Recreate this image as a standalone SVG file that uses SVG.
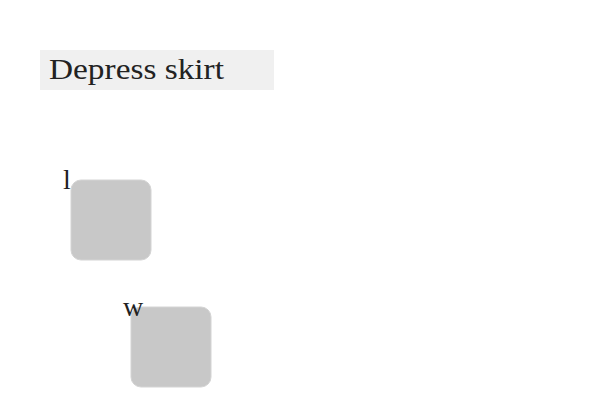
<svg xmlns="http://www.w3.org/2000/svg" width="600" height="400" viewBox="0 0 600 400">
<style>
.t{font-family:"Liberation Serif","DejaVu Serif",serif;fill:#222;}
.sq{fill:#c8c8c8;stroke:#d4d4d4;stroke-width:1;}
</style>
<rect width="600" height="400" fill="#fff"/>
<g id="title">
<rect x="40" y="50" width="234" height="40" fill="#f0f0f0"/>
<text class="t" x="49" y="79" font-size="29" textLength="175" lengthAdjust="spacingAndGlyphs">Depress skirt</text>
</g>
<g id="node-l">
<rect class="sq" x="71" y="180" width="80" height="80" rx="10"/>
<text class="t" x="63" y="189" font-size="28">l</text>
</g>
<g id="node-w">
<rect class="sq" x="131" y="307" width="80" height="80" rx="10"/>
<text class="t" x="123" y="316" font-size="28">w</text>
</g>
<g id="connectors"></g>
</svg>
